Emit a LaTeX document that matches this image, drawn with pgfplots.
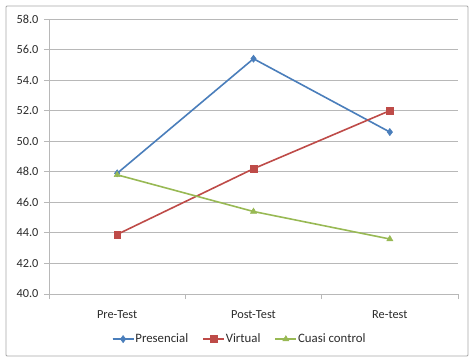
\documentclass[border=0pt]{standalone}
\usepackage{pgfplots}
\pgfplotsset{compat=1.18}
\usepackage{fontspec}
\setmainfont{Carlito}
\definecolor{cblue}{HTML}{4A7EBB}
\definecolor{cred}{HTML}{BE4B48}
\definecolor{cgreen}{HTML}{98B954}
\definecolor{gridc}{HTML}{B8B8B8}
\definecolor{txt}{HTML}{2A2A2A}
\begin{document}
\begin{tikzpicture}[x=1pt,y=1pt]
\useasboundingbox (0,0) rectangle (474,362);
\draw[gray!70, line width=0.8pt, rounded corners=1pt] (6,6) rectangle (468,356);
\begin{axis}[
  at={(49pt,68pt)}, anchor=south west,
  scale only axis, width=409pt, height=275pt,
  xmin=-0.5, xmax=2.5, ymin=40, ymax=58,
  xtick={0,1,2}, xticklabels={Pre-Test,Post-Test,Re-test},
  minor xtick={-0.5,0.5,1.5,2.5},
  ytick={40,42,...,58},
  yticklabel style={/pgf/number format/fixed, /pgf/number format/fixed zerofill, /pgf/number format/precision=1, xshift=-2pt},
  /pgf/number format/assume math mode=true,
  tick label style={font=\fontsize{12.3}{14}\selectfont, text=txt},
  axis x line*=bottom, axis y line*=left,
  axis line style={gridc, line width=0.8pt},
  tick align=outside,
  major tick length=5pt, minor tick length=5pt,
  major x tick style={draw=none},
  tick style={gridc, line width=0.8pt},
  ymajorgrids, grid style={gridc, line width=0.8pt},
  xticklabel style={yshift=-8pt},
  legend style={at={(0.465,-0.164)}, anchor=center, draw=none, fill=none,
    legend columns=-1, font=\fontsize{12.8}{14}\selectfont, text=txt,
    nodes={inner xsep=1pt},
    /tikz/every even column/.append style={column sep=13pt}},
  legend image code/.code={\draw[#1] (0pt,0pt) -- (21pt,0pt); \draw[#1,mark repeat=2,mark phase=2] plot coordinates {(0pt,0pt) (10.5pt,0pt) (21pt,0pt)};},
]
\addplot[cblue, line width=1.6pt, mark=diamond*, mark size=3.6pt, mark options={solid, line width=0.5pt}] coordinates {(0,47.9) (1,55.4) (2,50.6)};
\addlegendentry{Presencial}
\addplot[cred, line width=1.6pt, mark=square*, mark size=3.4pt, mark options={solid, line width=0.5pt}] coordinates {(0,43.9) (1,48.2) (2,52.0)};
\addlegendentry{Virtual}
\addplot[cgreen, line width=1.6pt, mark=triangle*, mark size=3.5pt, mark options={solid, line width=0.5pt}] coordinates {(0,47.8) (1,45.4) (2,43.6)};
\addlegendentry{Cuasi control}
\end{axis}
\end{tikzpicture}
\end{document}
